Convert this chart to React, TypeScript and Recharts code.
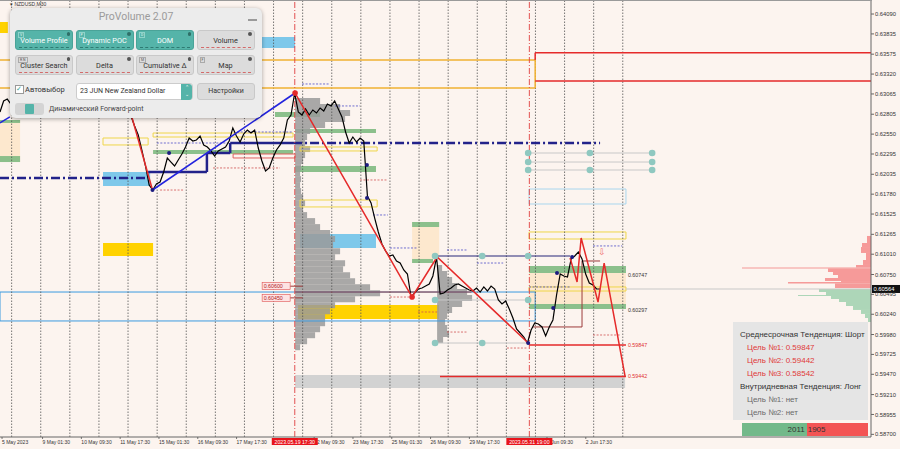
import React from 'react';
import {
  ComposedChart, Line, Scatter, XAxis, YAxis,
  ReferenceLine, ReferenceArea, ReferenceDot,
} from 'recharts';

// x = trading days since Mon 8 May 2023 00:00 (one dotted line per day), y = NZDUSD price
const T_MIN = -0.4;
const T_MAX = 29.53;
const P_MIN = 0.58666;
const P_MAX = 0.64257;

const FONT_AXIS = '"Liberation Sans", Arial, sans-serif';
const FONT_UI = 'Roboto, "Noto Sans", sans-serif';
const BG = '#fcf4ef';

// 3h closes, first one on the left edge of the chart
const BAR_START = -0.4;
const BAR_STEP = 0.125;
const closes = [
  0.62834, 0.62975, 0.63000, 0.62936, 0.62988, 0.63039, 0.63065, 0.63039, 0.63090, 0.63052,
  0.63103, 0.63116, 0.63077, 0.63129, 0.63141, 0.63103, 0.63154, 0.63129, 0.63167, 0.63141,
  0.63180, 0.63141, 0.63167, 0.63116, 0.63141, 0.63090, 0.63116, 0.63065, 0.63090, 0.63039,
  0.63013, 0.63026, 0.62962, 0.62988, 0.62911, 0.62859, 0.62782, 0.62654, 0.62539, 0.62346,
  0.62141, 0.61898, 0.61833, 0.61910, 0.61936, 0.62064, 0.62244, 0.62192, 0.62141, 0.62218,
  0.62295, 0.62385, 0.62500, 0.62462, 0.62475, 0.62526, 0.62411, 0.62385, 0.62334, 0.62269,
  0.62334, 0.62359, 0.62385, 0.62462, 0.62629, 0.62526, 0.62449, 0.62552, 0.62603, 0.62564,
  0.62603, 0.62372, 0.62205, 0.62077, 0.62116, 0.62244, 0.62346, 0.62411, 0.62500, 0.62731,
  0.62795, 0.63077, 0.62834, 0.62795, 0.62872, 0.62795, 0.62859, 0.62821, 0.62885, 0.62847,
  0.62936, 0.62911, 0.62975, 0.62872, 0.62770, 0.62577, 0.62436, 0.62513, 0.62449, 0.62500,
  0.62462, 0.61757, 0.61667, 0.61474, 0.61295, 0.61141, 0.61051, 0.60987, 0.61000, 0.60923,
  0.60897, 0.60808, 0.60756, 0.60461, 0.60513, 0.60564, 0.60577, 0.60602, 0.60628, 0.60731,
  0.60974, 0.60500, 0.60513, 0.60551, 0.60577, 0.60615, 0.60628, 0.60602, 0.60577, 0.60551,
  0.60538, 0.60577, 0.60525, 0.60590, 0.60538, 0.60602, 0.60564, 0.60423, 0.60372, 0.60410,
  0.60308, 0.60192, 0.60051, 0.60000, 0.59948, 0.59871, 0.60038, 0.60128, 0.60115, 0.60077,
  0.59961, 0.60077, 0.60167, 0.60487, 0.60756, 0.60731, 0.60718, 0.60949, 0.60987, 0.61038,
  0.60949, 0.60756, 0.60641, 0.60615, 0.60564, 0.60564,
];
const lastPrice = 0.60564;

const dayLines = [0, 1, 2, 3, 4, 5, 6, 7, 8, 9, 10, 11, 12, 13, 14, 15, 16, 17, 18, 19, 20, 21];
const sessionMarks = [9.729, 17.79];
const sessionLabels = ['2023.05.19 17:30', '2023.05.31 19:00'];

const timeTicks = [-0.33, 1.0625, 2.3958, 3.7292, 5.0625, 6.3958, 7.7292, 10.3958, 11.7292, 13.0625, 14.3958, 15.7292, 18.3958, 19.7292];
const timeLabels = ['5 May 2023', '9 May 01:30', '10 May 09:30', '11 May 17:30', '15 May 01:30', '16 May 09:30', '17 May 17:30', '22 May 09:30', '23 May 17:30', '25 May 01:30', '26 May 09:30', '29 May 17:30', '1 Jun 09:30', '2 Jun 17:30'];

const priceTicks = [0.64090, 0.63835, 0.63575, 0.63320, 0.63065, 0.62805, 0.62550, 0.62295, 0.62035, 0.61780, 0.61525, 0.61265, 0.61010, 0.60750, 0.60495, 0.60240, 0.59980, 0.59725, 0.59470, 0.59210, 0.58955, 0.58700];

// zones: [t1, t2, priceTop, priceBottom]
const goldZones = [[-0.4, -0.13, 0.63988, 0.63847], [3.14, 4.86, 0.61154, 0.60987], [9.84, 14.69, 0.60359, 0.60179]];
const skyZones = [[8.43, 9.74, 0.63796, 0.63654], [3.14, 4.76, 0.62064, 0.61885], [9.91, 12.52, 0.61269, 0.61090]];
const greenZones = [
  [-0.4, 0.29, 0.62731, 0.62693], [-0.4, 0.29, 0.62269, 0.62192], [4.86, 9.67, 0.62346, 0.62295],
  [9.05, 10.6, 0.62834, 0.62770], [9.74, 12.52, 0.62616, 0.62564], [9.74, 12.52, 0.62141, 0.62064],
  [13.76, 14.69, 0.61423, 0.61359], [13.76, 14.48, 0.60949, 0.60897],
  [17.78, 21.11, 0.60859, 0.60769], [17.78, 21.11, 0.60372, 0.60308],
];
const beigeZones = [[-0.4, 0.29, 0.62731, 0.62192], [13.76, 14.69, 0.61359, 0.60949], [17.78, 21.11, 0.60769, 0.60372]];
const yellowBoxes = [
  [3.14, 4.69, 0.62500, 0.62411], [4.86, 9.67, 0.62564, 0.62513], [9.91, 12.56, 0.62385, 0.62334],
  [9.91, 12.56, 0.61705, 0.61616], [17.78, 21.11, 0.61295, 0.61205], [17.78, 21.11, 0.60590, 0.60538],
];
const lightBlueBoxes = [[17.78, 21.11, 0.61846, 0.61654]];
const redBoxes = [[7.61, 9.74, 0.62295, 0.62244]];
const rangeBoxes = [[-0.4, 17.99, 0.60525, 0.60154]];
const grayBands = [[9.74, 21.08, 0.59461, 0.59294]];

// segments: [t1, p1, t2, p2]
const orangeSegs = [[-0.4, 0.63501, 17.99, 0.63501], [-0.4, 0.63141, 17.99, 0.63141], [17.99, 0.63501, 17.99, 0.63141]];
const redTopSegs = [[17.99, 0.63594, 29.53, 0.63594], [17.99, 0.63231, 29.53, 0.63231], [17.99, 0.63594, 17.99, 0.63501]];
const targetSegs = [[17.78, 0.59847, 21.11, 0.59847], [14.72, 0.59442, 21.11, 0.59442]];
const navySolidSegs = [
  [4.69, 0.62064, 6.71, 0.62064], [6.71, 0.62064, 6.71, 0.62308], [6.71, 0.62308, 7.51, 0.62308],
  [7.51, 0.62308, 7.51, 0.62436], [7.51, 0.62436, 9.67, 0.62436],
];
const navyDashDotSegs = [[-0.4, 0.61987, 4.69, 0.61987], [9.67, 0.62436, 20.22, 0.62436]];
const navyThinSegs = [[14.55, 0.60987, 19.19, 0.60987]];
const navyDottedSegs = [
  [9.98, 0.63193, 10.94, 0.63193], [11.11, 0.62911, 11.97, 0.62911], [12.42, 0.61513, 12.93, 0.61513],
  [13.0, 0.61090, 13.93, 0.61090], [14.96, 0.61064, 15.65, 0.61064], [15.99, 0.60897, 16.89, 0.60897],
  [4.99, 0.62436, 7.51, 0.62436], [7.75, 0.62577, 9.67, 0.62577], [19.98, 0.61116, 20.98, 0.61116],
  [17.78, 0.60590, 19.19, 0.60590],
];
const redDottedSegs = [
  [11.97, 0.61962, 12.93, 0.61962], [13.0, 0.60461, 13.79, 0.60461], [13.96, 0.60269, 14.62, 0.60269],
  [14.96, 0.60012, 15.65, 0.60012], [17.02, 0.59807, 17.75, 0.59807], [5.10, 0.61833, 5.89, 0.61833],
  [6.92, 0.62116, 9.22, 0.62116], [19.98, 0.59974, 20.91, 0.59974],
];
const darkRedSegs = [
  [9.57, 0.60600, 10.0, 0.60600], [9.57, 0.60450, 10.0, 0.60450], [9.74, 0.60525, 15.8, 0.60525],
  [17.92, 0.60077, 19.60, 0.60077], [19.60, 0.60077, 19.60, 0.60923], [19.60, 0.60923, 20.22, 0.60923],
];
const graySegs = [
  [17.75, 0.62308, 22.01, 0.62308], [17.75, 0.62192, 22.01, 0.62192], [17.75, 0.62090, 22.01, 0.62090],
  [14.55, 0.60423, 17.75, 0.60423], [14.55, 0.59871, 17.75, 0.59871], [21.11, 0.60564, 29.53, 0.60564],
];
const blueSegs = [[-0.4, 0.62693, -0.06, 0.62770]];

const blueTrend = [{ t: 4.84, p: 0.61833 }, { t: 9.74, p: 0.63077 }];
const zigzagA = [{ t: 4.14, p: 0.62757 }, { t: 4.84, p: 0.61833 }];
const zigzagB = [{ t: 9.74, p: 0.63077 }, { t: 13.76, p: 0.60461 }, { t: 14.62, p: 0.60974 }, { t: 17.75, p: 0.59871 }];
const zigzagC = [
  { t: 19.19, p: 0.60961 }, { t: 19.43, p: 0.60654 }, { t: 19.57, p: 0.61218 },
  { t: 20.15, p: 0.60397 }, { t: 20.36, p: 0.60897 }, { t: 21.08, p: 0.59442 },
];

const tealDots = [
  { t: 14.55, p: 0.60987 }, { t: 16.17, p: 0.60987 }, { t: 17.75, p: 0.60987 },
  { t: 14.55, p: 0.60423 }, { t: 17.75, p: 0.60423 }, { t: 14.55, p: 0.59871 }, { t: 16.17, p: 0.59871 },
  { t: 17.75, p: 0.62308 }, { t: 17.75, p: 0.62192 }, { t: 17.75, p: 0.62090 },
  { t: 19.87, p: 0.62308 }, { t: 19.87, p: 0.62090 },
  { t: 22.01, p: 0.62308 }, { t: 22.01, p: 0.62192 }, { t: 22.01, p: 0.62090 },
];
const redDots = [{ t: 9.74, p: 0.63077 }, { t: 13.76, p: 0.60461 }];
const navyDots = [
  { t: 4.84, p: 0.61833 }, { t: 17.75, p: 0.59871 }, { t: 19.26, p: 0.60974 }, { t: 18.74, p: 0.60769 },
  { t: 18.61, p: 0.60321 }, { t: 5.41, p: 0.62308 }, { t: 12.21, p: 0.62154 }, { t: 12.21, p: 0.61731 },
];

// volume profiles: volume per price bin
const PROFILE_STEP = 0.00077;
const VOL_UNIT = 1 / 29.1;
const PROFILE_A_AT = 9.74;
const PROFILE_A_TOP = 0.63013;
const profileA = [25, 45, 55, 50, 30, 15, 12, 10, 15, 10, 8, 6, 5, 6, 5, 6, 8, 10, 8, 12, 20, 25, 35, 40, 38, 45, 40, 50, 48, 55, 60, 75, 85, 60, 40, 35, 30, 30, 25, 20, 12, 5];
const PROFILE_B_AT = 14.62;
const PROFILE_B_TOP = 0.60872;
const profileB = [5, 10, 15, 20, 30, 35, 25, 15, 10, 8, 10, 12, 6];

// DOM histogram at the right edge: [priceTop, priceBottom, volume]
const sellHist = [
  [0.61244, 0.61154, 4], [0.61154, 0.61102, 9], [0.61102, 0.61026, 10], [0.61026, 0.60936, 5],
  [0.60936, 0.60872, 8], [0.60872, 0.60840, 15], [0.60840, 0.60827, 129], [0.60827, 0.60782, 43],
  [0.60782, 0.60743, 38], [0.60743, 0.60705, 33], [0.60705, 0.60667, 46], [0.60667, 0.60654, 30],
  [0.60654, 0.60635, 83], [0.60635, 0.60577, 36],
];
const buyHist = [
  [0.60564, 0.60525, 52], [0.60525, 0.60487, 45], [0.60487, 0.60474, 73], [0.60474, 0.60436, 40],
  [0.60436, 0.60397, 32], [0.60397, 0.60346, 25], [0.60346, 0.60295, 18], [0.60295, 0.60244, 10],
  [0.60244, 0.60192, 6], [0.60192, 0.60141, 3],
];

const levelLabels = [0.60747, 0.60297];
const targetLabels = [0.59847, 0.59442];
const tagLevels = [0.60600, 0.60450];

const mediumTargets = [0.59847, 0.59442, 0.58542];
const buyVolume = 2011;
const sellVolume = 1905;

const buttons = [
  { label: 'Volume Profile', key: 'V', on: true },
  { label: 'Dynamic POC', key: 'P', on: true },
  { label: 'DOM', key: 'D', on: true },
  { label: 'Volume', key: '', on: false },
  { label: 'Cluster Search', key: 'R N', on: false },
  { label: 'Delta', key: '', on: false },
  { label: 'Cumulative Δ', key: 'M', on: false },
  { label: 'Map', key: 'F', on: false },
];

const priceData = closes.map((p, i) => ({ t: BAR_START + i * BAR_STEP, p }));

const TimeTick = (props: any) => {
  const { x, y, payload } = props;
  const m = sessionMarks.indexOf(payload.value);
  if (m >= 0) {
    return (
      <g>
        <rect x={x - 23} y={y + 1} width={46} height={7} fill="#e8141c" />
        <text x={x} y={y + 6.6} textAnchor="middle" fontSize={5.2} fill="#fff" fontFamily={FONT_AXIS}>{sessionLabels[m]}</text>
      </g>
    );
  }
  const i = timeTicks.indexOf(payload.value);
  return (
    <g>
      <line x1={x} x2={x} y1={y} y2={y + 2} stroke="#555" strokeWidth={0.8} />
      <text x={x} y={y + 7} fontSize={5} fill="#333" fontFamily={FONT_AXIS}>{timeLabels[i]}</text>
    </g>
  );
};

const PriceTag = (props: any) => {
  const { viewBox } = props;
  return (
    <g>
      <rect x={viewBox.x + 1} y={viewBox.y - 4} width={28} height={8} fill="#111" />
      <text x={viewBox.x + 2.5} y={viewBox.y + 2} fontSize={5.8} fill="#fff" fontFamily={FONT_AXIS}>{props.text}</text>
    </g>
  );
};

const LevelTag = (props: any) => {
  const { viewBox } = props;
  return (
    <g>
      <rect x={viewBox.x - 28} y={viewBox.y - 3.5} width={28} height={7} fill="#fde3e3" stroke="#e05050" strokeWidth={0.6} />
      <text x={viewBox.x - 26.5} y={viewBox.y + 2} fontSize={5.3} fill="#b02020" fontFamily={FONT_AXIS}>{props.text}</text>
    </g>
  );
};

const SideLabel = (props: any) => {
  const { viewBox } = props;
  return (
    <text x={viewBox.x + 2} y={viewBox.y + 2} fontSize={5.3} fill={props.color} fontFamily={FONT_AXIS}>{props.text}</text>
  );
};

const zone = (z: number[], key: string, style: any) => (
  <ReferenceArea key={key} x1={z[0]} x2={z[1]} y1={z[2]} y2={z[3]} ifOverflow="visible" {...style} />
);

const seg = (s: number[], key: string, stroke: string, width = 1, dash?: string) => (
  <ReferenceLine
    key={key}
    segment={[{ x: s[0], y: s[1] }, { x: s[2], y: s[3] }]}
    stroke={stroke}
    strokeWidth={width}
    strokeDasharray={dash}
    ifOverflow="visible"
  />
);

const dot = (r: number, fill: string, stroke = 'none') => (props: any) => (
  <circle cx={props.cx} cy={props.cy} r={r} fill={fill} stroke={stroke} />
);

function ProVolumePanel() {
  return (
    <div style={{
      position: 'absolute', left: 10, top: 8, width: 252, height: 110, background: '#ececec',
      borderRadius: 6, boxShadow: '0 1px 4px rgba(0,0,0,0.35)', fontFamily: FONT_UI, overflow: 'hidden',
    }}>
      <div style={{ position: 'absolute', left: 0, right: 0, top: 2, textAlign: 'center', fontSize: 10.5, color: '#9b9b9b' }}>ProVolume 2.07</div>
      <div style={{ position: 'absolute', right: 5, top: 11, width: 9, height: 1.5, background: '#9a9a9a' }} />
      {buttons.map((b, i) => {
        const col = i % 4;
        const row = Math.floor(i / 4);
        return (
          <div key={b.label} style={{
            position: 'absolute', left: 5 + col * 60.5, top: 22 + row * 25, width: 58, height: 20,
            background: b.on ? '#55b4a9' : '#dcdcdc', borderRadius: 3,
            border: b.on ? '1px solid #4aa398' : '1px solid #c9c9c9', boxSizing: 'border-box',
          }}>
            {b.key && (
              <div style={{ position: 'absolute', left: 2, top: 1, fontSize: 3.5, color: b.on ? '#e6f5f3' : '#555', border: '0.5px solid ' + (b.on ? '#8fd3ca' : '#aaa'), padding: '0 1px', lineHeight: '4px' }}>{b.key}</div>
            )}
            <div style={{ position: 'absolute', right: 2, top: 1, width: 3.5, height: 3.5, borderRadius: 2, background: b.on ? '#2f6f68' : '#555' }} />
            <div style={{ position: 'absolute', left: 0, right: 0, top: 5, textAlign: 'center', fontSize: 7.3, color: b.on ? '#fff' : '#333', whiteSpace: 'nowrap' }}>{b.label}</div>
            <div style={{ position: 'absolute', left: 3, right: 3, bottom: 1.5, borderBottom: '1px dashed ' + (b.on ? '#2e7a72' : '#d36a6a') }} />
          </div>
        );
      })}
      <div style={{ position: 'absolute', left: 5, top: 77, width: 7, height: 7, background: '#fff', border: '0.5px solid #999', fontSize: 7, lineHeight: '6px', color: '#3aa597' }}>✓</div>
      <div style={{ position: 'absolute', left: 15, top: 77, fontSize: 7.5, color: '#333' }}>Автовыбор</div>
      <div style={{ position: 'absolute', left: 66, top: 75, width: 117, height: 17, background: '#fff', borderRadius: 3, border: '0.5px solid #ccc', boxSizing: 'border-box' }}>
        <div style={{ position: 'absolute', left: 3, top: 3, fontSize: 7, color: '#333', whiteSpace: 'nowrap' }}>23 JUN New Zealand Dollar</div>
        <div style={{ position: 'absolute', right: 0, top: 0, width: 11, height: 16, background: '#55b4a9', borderRadius: '0 3px 3px 0', color: '#fff', fontSize: 5, textAlign: 'center', lineHeight: '7px' }}>⌃<br />⌄</div>
      </div>
      <div style={{ position: 'absolute', left: 187, top: 75, width: 58, height: 17, background: '#dcdcdc', borderRadius: 3, border: '1px solid #c9c9c9', boxSizing: 'border-box', textAlign: 'center', fontSize: 7, color: '#333', lineHeight: '15px' }}>Настройки</div>
      <div style={{ position: 'absolute', left: 5, top: 95, width: 29, height: 12, background: '#d4d4d4', borderRadius: 3 }}>
        <div style={{ position: 'absolute', left: 10, top: 1, width: 9, height: 10, background: '#55b4a9', borderRadius: 1 }} />
      </div>
      <div style={{ position: 'absolute', left: 39, top: 97, fontSize: 7, color: '#444', whiteSpace: 'nowrap' }}>Динамический Forward-point</div>
    </div>
  );
}

function TrendPanel() {
  const line = (text: string, color: string, indent: number) => (
    <div style={{ height: 13, lineHeight: '13px', paddingLeft: indent, color, whiteSpace: 'nowrap' }}>{text}</div>
  );
  return (
    <div style={{
      position: 'absolute', left: 733, top: 322, width: 135, height: 98, background: 'rgba(228,228,228,0.96)',
      fontFamily: FONT_AXIS, fontSize: 8, paddingTop: 6, boxSizing: 'border-box',
    }}>
      {line('Среднесрочная Тенденция: Шорт', '#333', 7)}
      {mediumTargets.map((v, i) => (
        <React.Fragment key={v}>{line(`Цель №${i + 1}: ${v.toFixed(5)}`, '#e03a3a', 14)}</React.Fragment>
      ))}
      {line('Внутридневная Тенденция: Лонг', '#333', 7)}
      {line('Цель №1: нет', '#6a6a6a', 14)}
      {line('Цель №2: нет', '#6a6a6a', 14)}
    </div>
  );
}

function VolumeBar() {
  const total = buyVolume + sellVolume;
  const width = 126;
  const buyW = (buyVolume / total) * width;
  return (
    <div style={{ position: 'absolute', left: 742, top: 423, width, height: 13, fontFamily: FONT_AXIS, fontSize: 8, lineHeight: '13px', color: '#333' }}>
      <div style={{ position: 'absolute', left: 0, top: 0, width: buyW, height: 13, background: '#73b98a', textAlign: 'right', paddingRight: 2, boxSizing: 'border-box' }}>{buyVolume}</div>
      <div style={{ position: 'absolute', left: buyW, top: 0, width: width - buyW, height: 13, background: '#f35454', paddingLeft: 1, boxSizing: 'border-box' }}>{sellVolume}</div>
    </div>
  );
}

export default function App() {
  return (
    <div style={{ position: 'absolute', left: 0, top: 0, width: 900, height: 449, background: BG, overflow: 'hidden' }}>
      <ComposedChart width={900} height={449} margin={{ top: 1, right: 0, bottom: 0, left: 0 }}>
        <XAxis
          dataKey="t" type="number" domain={[T_MIN, T_MAX]} allowDataOverflow
          ticks={[...timeTicks, ...sessionMarks]} interval={0} tick={<TimeTick />}
          tickLine={false} tickSize={0} tickMargin={0} height={12} axisLine={{ stroke: '#666' }}
        />
        <YAxis
          dataKey="p" type="number" orientation="right" width={29} domain={[P_MIN, P_MAX]} allowDataOverflow
          ticks={priceTicks} interval={0} tickSize={3} tickMargin={1}
          tick={{ fontSize: 5.8, fill: '#333', fontFamily: FONT_AXIS }}
          tickFormatter={(v: number) => v.toFixed(5)}
          tickLine={{ stroke: '#666' }} axisLine={{ stroke: '#666' }}
        />

        {dayLines.map((d) => (
          <ReferenceLine key={'g' + d} x={d} stroke="#555" strokeWidth={0.8} strokeDasharray="1.5 1.5" ifOverflow="visible" />
        ))}

        {beigeZones.map((z, i) => zone(z, 'be' + i, { fill: '#fde3c0', fillOpacity: 0.7 }))}
        {goldZones.map((z, i) => zone(z, 'go' + i, { fill: '#ffd200', fillOpacity: 1 }))}
        {skyZones.map((z, i) => zone(z, 'sk' + i, { fill: '#7ec8ea', fillOpacity: 1 }))}
        {greenZones.map((z, i) => zone(z, 'gr' + i, { fill: '#86bd86', fillOpacity: 0.95 }))}
        {grayBands.map((z, i) => zone(z, 'gb' + i, { fill: '#d2d2d2', fillOpacity: 1 }))}

        {profileA.map((v, i) => (
          <ReferenceArea key={'pa' + i} x1={PROFILE_A_AT} x2={PROFILE_A_AT + v * VOL_UNIT}
            y1={PROFILE_A_TOP - i * PROFILE_STEP} y2={PROFILE_A_TOP - (i + 1) * PROFILE_STEP}
            fill="#9a9a9a" fillOpacity={0.85} ifOverflow="visible" />
        ))}
        {profileB.map((v, i) => (
          <ReferenceArea key={'pb' + i} x1={PROFILE_B_AT} x2={PROFILE_B_AT + v * VOL_UNIT}
            y1={PROFILE_B_TOP - i * PROFILE_STEP} y2={PROFILE_B_TOP - (i + 1) * PROFILE_STEP}
            fill="#9a9a9a" fillOpacity={0.85} ifOverflow="visible" />
        ))}
        {sellHist.map((h, i) => zone([T_MAX - h[2] * VOL_UNIT, T_MAX, h[0], h[1]], 'sh' + i, { fill: '#f58a8a', fillOpacity: 0.85 }))}
        {buyHist.map((h, i) => zone([T_MAX - h[2] * VOL_UNIT, T_MAX, h[0], h[1]], 'bh' + i, { fill: '#a4d3b1', fillOpacity: 0.9 }))}

        {yellowBoxes.map((z, i) => zone(z, 'yb' + i, { fill: 'none', stroke: '#efd64a', strokeWidth: 1 }))}
        {lightBlueBoxes.map((z, i) => zone(z, 'lb' + i, { fill: 'none', stroke: '#a9d6ee', strokeWidth: 1 }))}
        {redBoxes.map((z, i) => zone(z, 'rb' + i, { fill: 'none', stroke: '#e06060', strokeWidth: 1 }))}
        {rangeBoxes.map((z, i) => zone(z, 'rg' + i, { fill: 'none', stroke: '#3b9ae0', strokeWidth: 1 }))}

        {orangeSegs.map((s, i) => seg(s, 'or' + i, '#f0b232', 1.5))}
        {redTopSegs.map((s, i) => seg(s, 'rt' + i, '#e52a2a', 1.5))}
        {graySegs.map((s, i) => seg(s, 'gs' + i, '#c8c8c8', 1))}
        {navyDottedSegs.map((s, i) => seg(s, 'nd' + i, '#4b4bc8', 0.8, '2 1.5'))}
        {redDottedSegs.map((s, i) => seg(s, 'rd' + i, '#d05050', 0.8, '2 1.5'))}
        {darkRedSegs.map((s, i) => seg(s, 'dr' + i, '#9c3a3a', 1))}
        {navyThinSegs.map((s, i) => seg(s, 'nt' + i, '#26267a', 1.2))}
        {navySolidSegs.map((s, i) => seg(s, 'ns' + i, '#22228a', 2.5))}
        {navyDashDotSegs.map((s, i) => seg(s, 'ndd' + i, '#22228a', 2.5, '9 3 2 3'))}
        {targetSegs.map((s, i) => seg(s, 'tg' + i, '#e52a2a', 1.5))}
        {blueSegs.map((s, i) => seg(s, 'bs' + i, '#2323dd', 1.5))}

        {sessionMarks.map((m) => (
          <ReferenceLine key={'sm' + m} x={m} stroke="#e04040" strokeWidth={0.9} strokeDasharray="6 2 1 2" ifOverflow="visible" />
        ))}

        <Line data={priceData} dataKey="p" type="linear" stroke="#000" strokeWidth={1.2} dot={false} isAnimationActive={false} />
        <Line data={blueTrend} dataKey="p" type="linear" stroke="#2323dd" strokeWidth={1.6} dot={false} isAnimationActive={false} />
        <Line data={zigzagA} dataKey="p" type="linear" stroke="#e52a2a" strokeWidth={1.5} dot={false} isAnimationActive={false} />
        <Line data={zigzagB} dataKey="p" type="linear" stroke="#e52a2a" strokeWidth={1.5} dot={false} isAnimationActive={false} />
        <Line data={zigzagC} dataKey="p" type="linear" stroke="#e52a2a" strokeWidth={1.5} dot={false} isAnimationActive={false} />

        <Scatter data={tealDots} fill="#8cc6bd" shape={dot(3.3, '#8fc8c0')} isAnimationActive={false} />
        <Scatter data={navyDots} fill="#1c1c80" shape={dot(2, '#1c1c80')} isAnimationActive={false} />
        <Scatter data={redDots} fill="#e52a2a" shape={dot(2.8, '#e52a2a')} isAnimationActive={false} />

        {levelLabels.map((v) => (
          <ReferenceDot key={'ll' + v} x={21.11} y={v} r={0} fill="none" stroke="none" ifOverflow="visible"
            label={<SideLabel text={v.toFixed(5)} color="#333" />} />
        ))}
        {targetLabels.map((v) => (
          <ReferenceDot key={'tl' + v} x={21.11} y={v} r={0} fill="none" stroke="none" ifOverflow="visible"
            label={<SideLabel text={v.toFixed(5)} color="#e03030" />} />
        ))}
        {tagLevels.map((v) => (
          <ReferenceDot key={'tag' + v} x={9.57} y={v} r={0} fill="none" stroke="none" ifOverflow="visible"
            label={<LevelTag text={v.toFixed(5)} />} />
        ))}
        <ReferenceDot x={20.29} y={0.61038} r={0} fill="none" stroke="none" ifOverflow="visible"
          label={{ value: '⇩', position: 'center', fill: '#f07070', fontSize: 9 }} />
        <ReferenceDot x={T_MAX} y={lastPrice} r={0} fill="none" stroke="none" ifOverflow="visible"
          label={<PriceTag text={lastPrice.toFixed(5)} />} />
      </ComposedChart>

      <div style={{ position: 'absolute', left: 0, top: 0, width: 872, height: 1, background: '#9a9a9a' }} />
      <div style={{ position: 'absolute', left: 10, top: 1, fontSize: 5, color: '#333', fontFamily: FONT_AXIS }}>▾ NZDUSD,M30</div>
      <ProVolumePanel />
      <TrendPanel />
      <VolumeBar />
    </div>
  );
}
